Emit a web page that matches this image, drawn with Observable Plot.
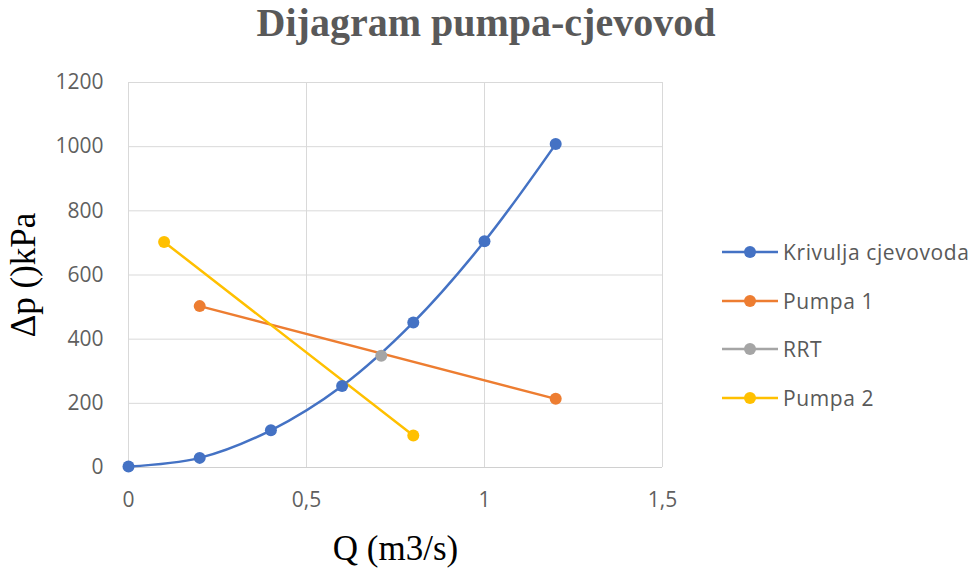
<!DOCTYPE html>
<html>
<head>
<meta charset="utf-8">
<script src="https://cdn.jsdelivr.net/npm/d3@7"></script>
<script src="https://cdn.jsdelivr.net/npm/@observablehq/plot@0.6"></script>
<style>
  html, body { margin: 0; padding: 0; background: #fff; }
  #wrap { position: relative; width: 979px; height: 572px; overflow: hidden; }
  #title { position: absolute; left: 0; width: 972px; top: 0px; text-align: center;
    font: bold 40px "Liberation Serif", "Times New Roman", serif; color: #595959; line-height: 46px; }
  #legend { position: absolute; left: 720px; top: 228px; font: 21px "Open Sans", sans-serif; color: #595959; letter-spacing: 0.6px; }
  .item { display: flex; align-items: center; height: 48.5px; }
  .item svg { margin-right: 3px; }
  g[aria-label="y-axis label"] text, g[aria-label="x-axis label"] text {
    font: 35px "Liberation Serif", "Times New Roman", serif; fill: #000;
  }
  g[aria-label="y-axis tick label"] text, g[aria-label="x-axis tick label"] text {
    font: 21px "Open Sans", sans-serif; fill: #5f5f5f;
  }
</style>
</head>
<body>
<div id="wrap">
  <div id="title">Dijagram pumpa-cjevovod</div>
  <div id="chart"></div>
  <div id="legend"></div>
</div>
<script>
// Data
const seriesNames = ["Krivulja cjevovoda", "Pumpa 1", "RRT", "Pumpa 2"];
const seriesColors = ["#4472C4", "#ED7D31", "#A5A5A5", "#FFC000"];

const krivuljaQ = [0, 0.2, 0.4, 0.6, 0.8, 1.0, 1.2];
const krivuljaP = [3, 30, 116, 254, 452, 705, 1008];

const pumpa1Q = [0.2, 1.2];
const pumpa1P = [503, 214];

const rrtQ = [0.71];
const rrtP = [348];

const pumpa2Q = [0.1, 0.8];
const pumpa2P = [703, 100];

const xTicks = [0, 0.5, 1, 1.5];
const yTicks = [0, 200, 400, 600, 800, 1000, 1200];

const toRows = (name, qs, ps) => qs.map((q, i) => ({series: name, q, p: ps[i]}));
const krivulja = toRows(seriesNames[0], krivuljaQ, krivuljaP);
const pumpa1 = toRows(seriesNames[1], pumpa1Q, pumpa1P);
const rrt = toRows(seriesNames[2], rrtQ, rrtP);
const pumpa2 = toRows(seriesNames[3], pumpa2Q, pumpa2P);

const fmt = d => String(d).replace(".", ",");

const chart = Plot.plot({
  width: 979,
  height: 572,
  marginLeft: 128,
  marginRight: 317,
  marginTop: 82,
  marginBottom: 105,
  x: {domain: [0, 1.5]},
  y: {domain: [0, 1200]},
  marks: [
    Plot.gridY(yTicks.filter(d => d > 0), {stroke: "#d9d9d9", strokeOpacity: 1, strokeWidth: 1}),
    Plot.gridX(xTicks, {stroke: "#d9d9d9", strokeOpacity: 1, strokeWidth: 1}),
    Plot.ruleY([0], {stroke: "#d0d0d0", strokeWidth: 1.2}),
    Plot.axisY({ticks: yTicks, tickSize: 0, tickPadding: 25, tickFormat: d => String(d),
      label: "Δp ()kPa", labelAnchor: "center", labelOffset: 118, labelArrow: "none"}),
    Plot.axisX({ticks: xTicks, tickSize: 0, tickPadding: 25, tickFormat: fmt,
      label: "Q (m3/s)", labelAnchor: "center", labelOffset: 92, labelArrow: "none"}),
    Plot.line(krivulja, {x: "q", y: "p", stroke: seriesColors[0], strokeWidth: 2.5, curve: "catmull-rom"}),
    Plot.line(pumpa1, {x: "q", y: "p", stroke: seriesColors[1], strokeWidth: 2.5}),
    Plot.line(pumpa2, {x: "q", y: "p", stroke: seriesColors[3], strokeWidth: 2.5}),
    Plot.dot(krivulja, {x: "q", y: "p", r: 6, fill: seriesColors[0]}),
    Plot.dot(pumpa1, {x: "q", y: "p", r: 6, fill: seriesColors[1]}),
    Plot.dot(pumpa2, {x: "q", y: "p", r: 6, fill: seriesColors[3]}),
    Plot.dot(rrt, {x: "q", y: "p", r: 6, fill: seriesColors[2]})
  ]
});
document.getElementById("chart").appendChild(chart);

const legend = document.getElementById("legend");
seriesNames.forEach((name, i) => {
  const item = document.createElement("div");
  item.className = "item";
  item.innerHTML = `<svg width="60" height="16"><line x1="2" x2="58" y1="8" y2="8" stroke="${seriesColors[i]}" stroke-width="2.5"/><circle cx="30" cy="8" r="6" fill="${seriesColors[i]}"/></svg><span>${name}</span>`;
  legend.appendChild(item);
});
</script>
</body>
</html>
